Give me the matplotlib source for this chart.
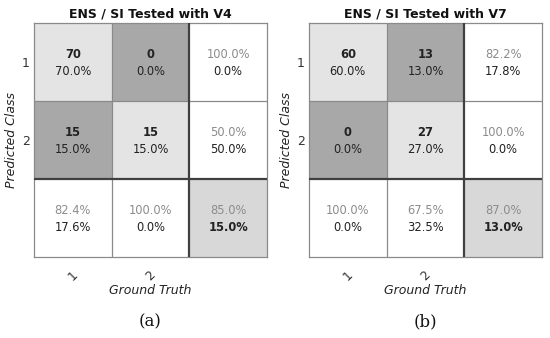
import matplotlib
matplotlib.use("Agg")
import matplotlib.pyplot as plt
from matplotlib.patches import Rectangle

plt.rcParams["font.family"] = ["DejaVu Sans"]

titles = ["ENS / SI Tested with V4", "ENS / SI Tested with V7"]
panel_labels = ["(a)", "(b)"]
class_labels = ["1", "2"]
# confusion counts: rows = predicted class, cols = ground truth
counts_v4 = [[70, 0], [15, 15]]
counts_v7 = [[60, 13], [0, 27]]
all_counts = [counts_v4, counts_v7]

C_DIAG = "#e4e4e4"
C_OFF = "#a8a8a8"
C_TOTAL = "#d8d8d8"
C_WHITE = "#ffffff"
TXT = "#222222"
GRAYTXT = "#8c8c8c"
FS = 8.3

fig = plt.figure(figsize=(5.5, 3.38), dpi=100)

lefts = [34 / 550, 309 / 550]
W = 233 / 550
B = 81 / 338
H = 234 / 338

for k, counts in enumerate(all_counts):
    ax = fig.add_axes([lefts[k], B, W, H])
    n = len(counts)
    total = sum(sum(r) for r in counts)
    ax.set_xlim(0, n + 1)
    ax.set_ylim(n + 1, 0)

    def cell(col, row, color):
        ax.add_patch(Rectangle((col, row), 1, 1, facecolor=color, edgecolor="none", zorder=0))

    for i in range(n):
        for j in range(n):
            v = counts[i][j]
            cell(j, i, C_DIAG if i == j else C_OFF)
            ax.text(j + 0.5, i + 0.41, f"{v}", ha="center", va="center",
                    fontsize=FS, fontweight="bold", color=TXT)
            ax.text(j + 0.5, i + 0.62, f"{100 * v / total:.1f}%", ha="center", va="center",
                    fontsize=FS, color=TXT)
    # row summaries (precision)
    for i in range(n):
        rs = sum(counts[i])
        p = 100 * counts[i][i] / rs if rs else 0
        cell(n, i, C_WHITE)
        ax.text(n + 0.5, i + 0.41, f"{p:.1f}%", ha="center", va="center", fontsize=FS, color=GRAYTXT)
        ax.text(n + 0.5, i + 0.62, f"{100 - p:.1f}%", ha="center", va="center", fontsize=FS, color=TXT)
    # column summaries (recall)
    for j in range(n):
        cs = sum(counts[i][j] for i in range(n))
        r = 100 * counts[j][j] / cs if cs else 0
        cell(j, n, C_WHITE)
        ax.text(j + 0.5, n + 0.41, f"{r:.1f}%", ha="center", va="center", fontsize=FS, color=GRAYTXT)
        ax.text(j + 0.5, n + 0.62, f"{100 - r:.1f}%", ha="center", va="center", fontsize=FS, color=TXT)
    acc = 100 * sum(counts[i][i] for i in range(n)) / total
    cell(n, n, C_TOTAL)
    ax.text(n + 0.5, n + 0.41, f"{acc:.1f}%", ha="center", va="center", fontsize=FS, color=GRAYTXT)
    ax.text(n + 0.5, n + 0.62, f"{100 - acc:.1f}%", ha="center", va="center", fontsize=FS,
            fontweight="bold", color=TXT)

    # grid lines
    for g in range(1, n):
        ax.axvline(g, color="#8a8a8a", lw=0.9, zorder=2)
        ax.axhline(g, color="#8a8a8a", lw=0.9, zorder=2)
    ax.axvline(n, color="#404040", lw=1.6, zorder=3)
    ax.axhline(n, color="#404040", lw=1.6, zorder=3)
    for s in ax.spines.values():
        s.set_color("#8a8a8a")
        s.set_linewidth(0.9)

    ax.set_xticks([j + 0.5 for j in range(n)])
    ax.set_xticklabels(class_labels, rotation=45, fontsize=9, color="#333333")
    ax.set_yticks([i + 0.5 for i in range(n)])
    ax.set_yticklabels(class_labels, fontsize=9, color="#333333")
    ax.tick_params(axis="y", length=0, pad=3)
    ax.tick_params(axis="x", length=0, pad=8)
    ax.set_xlabel("Ground Truth", fontsize=9, style="italic", color="#222222", labelpad=1)
    ax.set_ylabel("Predicted Class", fontsize=9, style="italic", color="#222222", labelpad=3)
    ax.set_title(titles[k], fontsize=9, fontweight="bold", color="#111111", pad=4)
    fig.text(lefts[k] + W / 2, 1 - 322 / 338, panel_labels[k], ha="center", va="center",
             fontsize=12, family="DejaVu Serif", color="#111111")

fig.savefig("out.png", dpi=100)
